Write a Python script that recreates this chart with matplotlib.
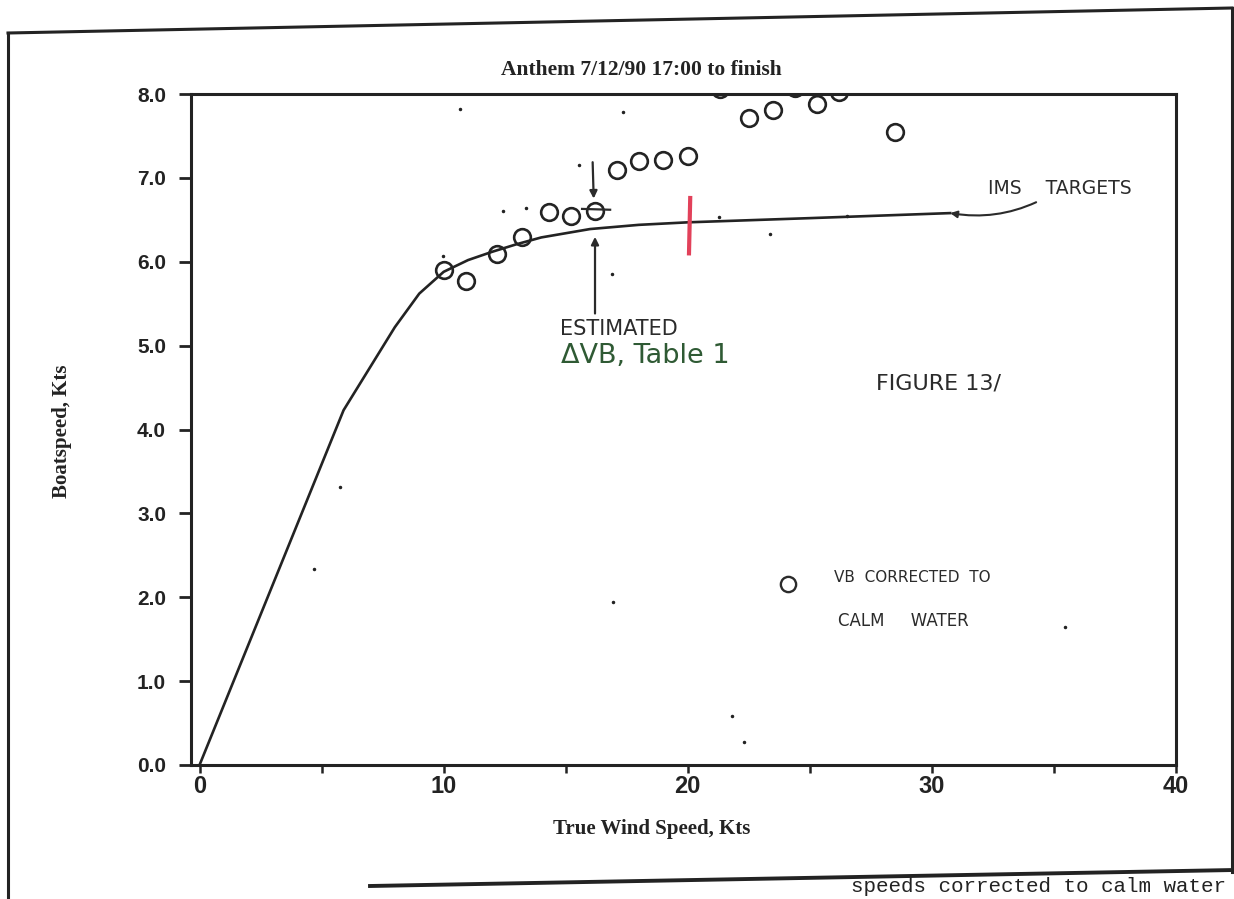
import matplotlib.pyplot as plt
from matplotlib.lines import Line2D

W, H = 1234, 899

# IMS target boatspeed curve, Kts
ims_tws = [0.0, 5.9, 8.0, 9.0, 10.0, 11.0, 12.0, 13.0, 14.0, 16.0, 18.0, 20.0, 25.0, 30.75]
ims_vb = [0.0, 4.23, 5.22, 5.62, 5.88, 6.02, 6.12, 6.21, 6.29, 6.39, 6.44, 6.47, 6.52, 6.58]

# boatspeed corrected to calm water (open circles)
calm_tws = [10.0, 10.9, 12.2, 13.2, 14.3, 15.2, 16.2, 17.1, 18.0, 19.0, 20.0,
            21.3, 22.5, 23.5, 24.4, 25.3, 26.2, 28.5]
calm_vb = [5.90, 5.77, 6.09, 6.30, 6.59, 6.54, 6.60, 7.09, 7.20, 7.21, 7.26,
           8.06, 7.71, 7.81, 8.07, 7.88, 8.02, 7.55]

# raw log points (small dots)
raw_tws = [4.7, 5.75, 9.98, 10.66, 12.43, 13.38, 15.54, 16.89, 16.93, 17.34,
           21.28, 21.8, 22.32, 23.36, 26.53, 35.44]
raw_vb = [2.34, 3.32, 6.07, 7.82, 6.60, 6.64, 7.15, 5.85, 1.94, 7.79,
          6.53, 0.59, 0.27, 6.33, 6.55, 1.65]

xticks = [0, 10, 20, 30, 40]
xminor = [5, 15, 25, 35]
yticks = [0, 1, 2, 3, 4, 5, 6, 7, 8]

ink = '#232323'
hand = '#2b2b2b'
green = '#2f5a34'
red = '#e2415a'
narrow = ['Liberation Sans Narrow', 'Liberation Sans']

fig = plt.figure(figsize=(W / 100, H / 100), dpi=100)
fig.patch.set_facecolor('white')

# page border of the sheet
def page_line(p0, p1, lw=2.2):
    fig.add_artist(Line2D([p0[0] / W, p1[0] / W], [1 - p0[1] / H, 1 - p1[1] / H],
                          color=ink, lw=lw, transform=fig.transFigure))

page_line((8, 33), (8, 899))
page_line((8, 33), (1232, 8))
page_line((1232, 8), (1232, 872))
page_line((370, 886), (1234, 870), lw=2.8)

ax = fig.add_axes([191 / W, 1 - 765 / H, 985 / W, 671 / H])
ax.set_xlim(-0.35, 40)
ax.set_ylim(0, 8)
for s in ax.spines.values():
    s.set_linewidth(2.2)
    s.set_color(ink)

ax.set_xticks(xticks)
ax.set_xticklabels([str(v) for v in xticks])
ax.set_xticks(xminor, minor=True)
ax.set_yticks(yticks)
ax.set_yticklabels(['%.1f' % v for v in yticks])
ax.tick_params(axis='x', which='both', direction='out', length=6, width=1.8,
               color=ink, pad=1, labelsize=17, labelcolor=ink)
ax.tick_params(axis='y', direction='out', length=9, width=2.0, color=ink,
               pad=9, labelsize=15, labelcolor=ink)
for lbl in ax.get_xticklabels() + ax.get_yticklabels():
    lbl.set_fontfamily(narrow)
    lbl.set_fontweight('bold')

ax.plot(ims_tws, ims_vb, color=ink, lw=1.9)
ax.plot(calm_tws, calm_vb, 'o', ms=12, mfc='none', mec=ink, mew=1.9)
ax.plot(raw_tws, raw_vb, '.', ms=3, color=ink)

# hand annotations
ax.annotate('', xy=(16.15, 6.72), xytext=(16.1, 7.22),
            arrowprops=dict(arrowstyle='-|>', lw=1.6, color=hand, mutation_scale=11))
ax.annotate('', xy=(16.2, 6.33), xytext=(16.2, 5.35),
            arrowprops=dict(arrowstyle='-|>', lw=1.6, color=hand, mutation_scale=11))
ax.plot([15.67, 16.82], [6.63, 6.62], color=hand, lw=1.6)
ax.plot([20.1, 20.05], [6.76, 6.10], color=red, lw=3)

ax.annotate('IMS    TARGETS', xy=(30.75, 6.58), xytext=(32.3, 6.87),
            fontsize=13.5, color=hand, family='DejaVu Sans', va='center',
            arrowprops=dict(arrowstyle='-|>', lw=1.5, color=hand, mutation_scale=10,
                            shrinkA=2, shrinkB=0, connectionstyle='arc3,rad=-0.2'))
ax.text(14.75, 5.2, 'ESTIMATED', fontsize=15, color=hand, family='DejaVu Sans', va='center')
ax.text(14.8, 4.88, '\u0394VB, Table 1', fontsize=19.5, color=green, family='DejaVu Sans',
        va='center')
ax.text(27.7, 4.55, 'FIGURE 13/', fontsize=16, color=hand, family='DejaVu Sans', va='center')

ax.plot([24.12], [2.16], 'o', ms=11, mfc='none', mec=hand, mew=1.7)
ax.text(25.97, 2.23, 'VB  CORRECTED  TO', fontsize=11, color=hand, family='DejaVu Sans',
        va='center')
ax.text(26.14, 1.72, 'CALM     WATER', fontsize=12, color=hand, family='DejaVu Sans',
        va='center')

fig.text(641 / W, 1 - 70 / H, 'Anthem 7/12/90 17:00 to finish', ha='center', va='center',
         fontsize=15.5, fontweight='bold', family='Liberation Serif', color=ink)
fig.text(652 / W, 1 - 829 / H, 'True Wind Speed, Kts', ha='center', va='center',
         fontsize=15, fontweight='bold', family='Liberation Serif', color=ink)
fig.text(62 / W, 1 - 431 / H, 'Boatspeed, Kts', ha='center', va='center', rotation=90,
         fontsize=15, fontweight='bold', family='Liberation Serif', color=ink)

# body text of the page running on below the figure
fig.text(1226 / W, 1 - 892 / H, 'speeds corrected to calm water', ha='right', va='baseline',
         fontsize=15, family='Liberation Mono', color=ink)

fig.savefig('out.png', dpi=100)
